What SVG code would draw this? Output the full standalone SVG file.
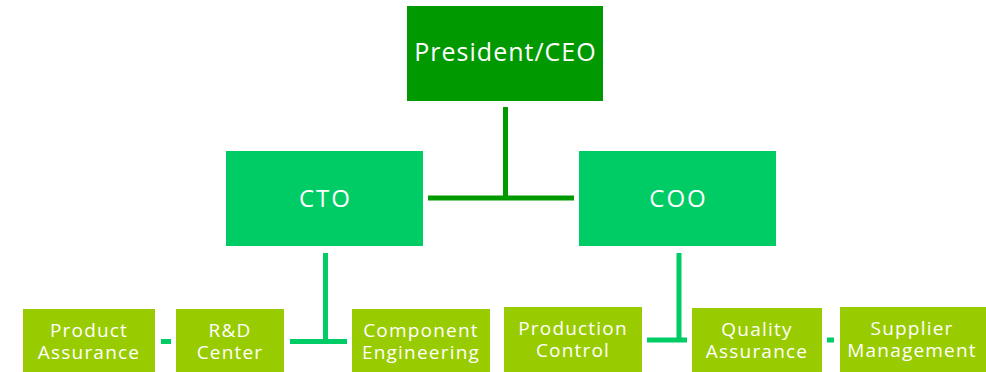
<svg xmlns="http://www.w3.org/2000/svg" width="986" height="372" viewBox="0 0 986 372">
<style>
.t{font-family:"Open Sans","Liberation Sans",sans-serif;fill:#fff;text-anchor:middle;font-weight:400}
.s{font-size:19px;letter-spacing:1.2px}
.top{fill:#009900}
.mid{fill:#00CC66}
.low{fill:#99CC00}
.c1{stroke:#009900;stroke-width:5;fill:none}
.c2{stroke:#00CC66;stroke-width:5;fill:none}
</style>
<rect width="986" height="372" fill="#fff"/>
<g id="connectors">
<path class="c1" d="M505.5 107V198M428 198H574"/>
<path class="c2" d="M325.5 253V341.5M290 341.5H347M161 341.5H171"/>
<path class="c2" d="M679 253V340M647 340H687M827 340H834"/>
</g>
<g id="ceo"><rect class="top" x="407" y="6" width="196" height="95"/><text class="t" x="505.5" y="61" font-size="25" letter-spacing="1">President/CEO</text></g>
<g id="cto"><rect class="mid" x="226" y="151" width="197" height="95"/><text class="t" x="325.5" y="207" font-size="24" letter-spacing="2">CTO</text></g>
<g id="coo"><rect class="mid" x="579" y="151" width="197" height="95"/><text class="t" x="678.5" y="207" font-size="24" letter-spacing="2">COO</text></g>
<g id="product-assurance"><rect class="low" x="23" y="309" width="132" height="63"/><text class="t s" x="89"><tspan x="89" y="337">Product</tspan><tspan x="89" y="359">Assurance</tspan></text></g>
<g id="rd-center"><rect class="low" x="176" y="309" width="108" height="63"/><text class="t s" x="230"><tspan x="230" y="337">R&amp;D</tspan><tspan x="230" y="359">Center</tspan></text></g>
<g id="component-engineering"><rect class="low" x="352" y="309" width="138" height="63"/><text class="t s" x="421"><tspan x="421" y="337">Component</tspan><tspan x="421" y="359">Engineering</tspan></text></g>
<g id="production-control"><rect class="low" x="504" y="307" width="138" height="65"/><text class="t s" x="573"><tspan x="573" y="335">Production</tspan><tspan x="573" y="357">Control</tspan></text></g>
<g id="quality-assurance"><rect class="low" x="692" y="308" width="130" height="64"/><text class="t s" x="757"><tspan x="757" y="336">Quality</tspan><tspan x="757" y="358">Assurance</tspan></text></g>
<g id="supplier-management"><rect class="low" x="840" y="307" width="146" height="65"/><text class="t s" x="912"><tspan x="912" y="335">Supplier</tspan><tspan x="912" y="357">Management</tspan></text></g>
</svg>
